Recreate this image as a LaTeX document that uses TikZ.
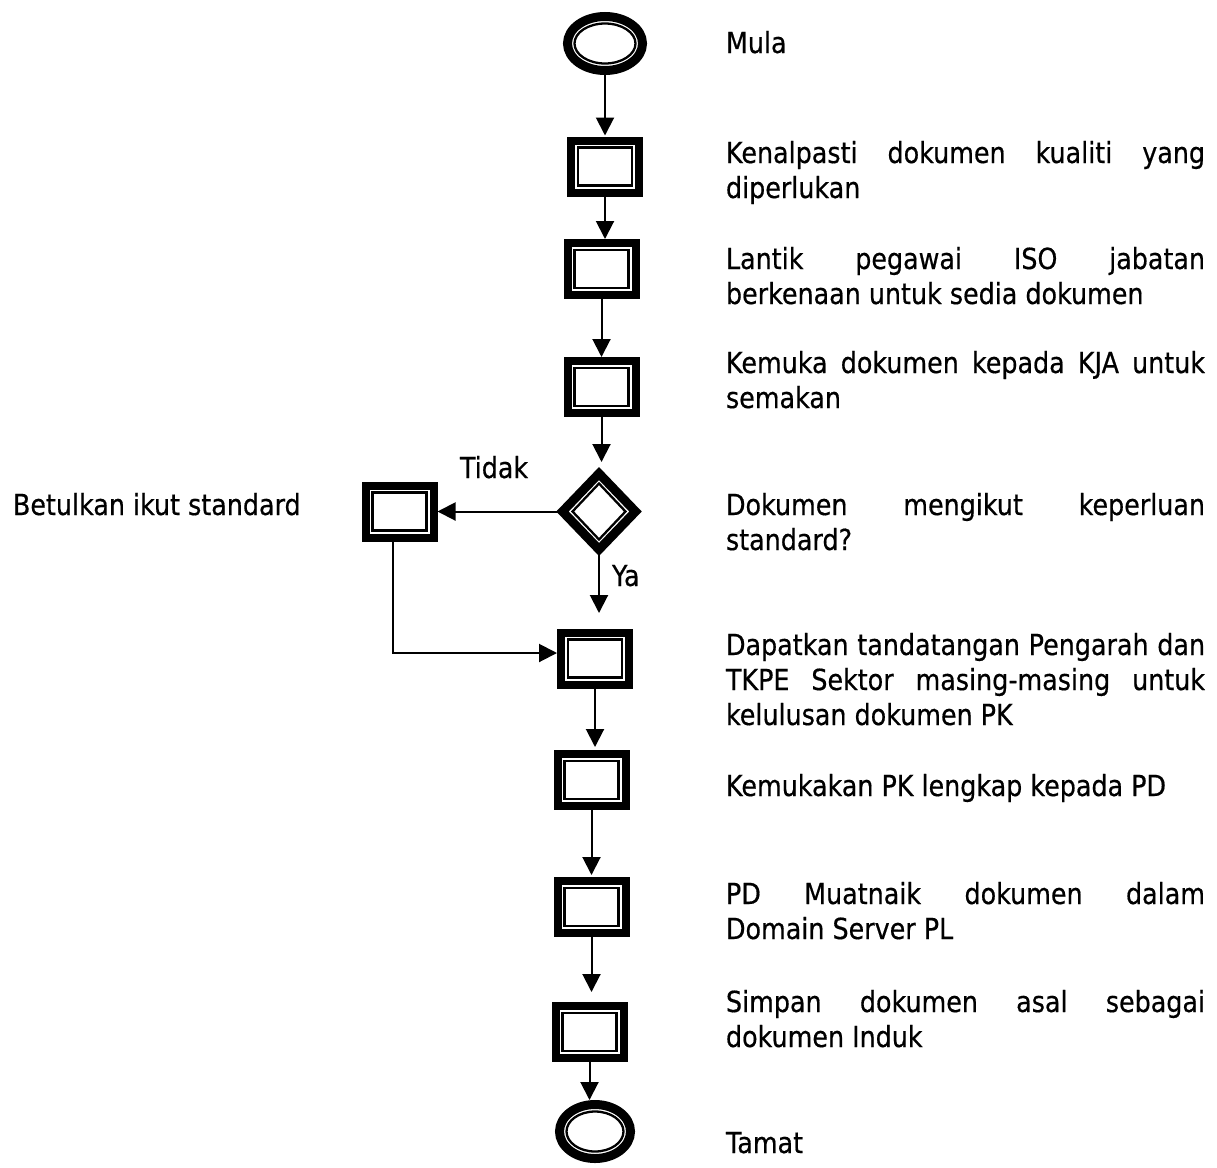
\documentclass[tikz,border=0pt]{standalone}
\usepackage{fontspec}
\setmainfont{DejaVu Sans}[FakeStretch=0.875,FakeBold=0.5]
\usetikzlibrary{arrows.meta,shapes.geometric}
\hyphenpenalty=10000
\exhyphenpenalty=10000
\begin{document}
\begin{tikzpicture}[x=1pt,y=-1pt,
  every node/.style={inner sep=0pt,outer sep=0pt},
  flow/.style={line width=2pt,-{Triangle[length=18pt,width=18pt]}},
  procbox/.style={draw,rectangle,line width=8pt,minimum width=68pt,minimum height=52pt,
    path picture={\draw[line width=2.3pt]
      ([shift={(7pt,7pt)}]path picture bounding box.south west) rectangle
      ([shift={(-7pt,-7pt)}]path picture bounding box.north east);}},
  termA/.style={draw,ellipse,line width=9pt,minimum width=75pt,minimum height=54pt,
    path picture={\draw[line width=2.3pt] (path picture bounding box.center)
      ellipse [x radius=30.5pt,y radius=20pt];}},
  termB/.style={draw,ellipse,line width=9pt,minimum width=71pt,minimum height=54pt,
    path picture={\draw[line width=2.3pt] (path picture bounding box.center)
      ellipse [x radius=28.5pt,y radius=20pt];}},
  decide/.style={draw,diamond,line width=9pt,minimum width=73pt,minimum height=76pt,
    path picture={\draw[line width=2.3pt]
      ([yshift=-10pt]path picture bounding box.north) --
      ([xshift=-10pt]path picture bounding box.east) --
      ([yshift=10pt]path picture bounding box.south) --
      ([xshift=10pt]path picture bounding box.west) -- cycle;}},
  desc/.style={anchor=north west,text width=479pt,align=justify,
    font=\fontsize{29pt}{35pt}\selectfont},
  lbl/.style={anchor=base west,font=\fontsize{29pt}{35pt}\selectfont},
]
\fill[white] (0,0) rectangle (1217,1167);
\useasboundingbox (0,0) rectangle (1217,1167);

% shapes
\node[termA] (s) at (605,43.5) {};
\node[procbox] (b1) at (605,166.5) {};
\node[procbox] (b2) at (601.5,269) {};
\node[procbox] (b3) at (601.5,387) {};
\node[decide] (d) at (599,511.5) {};
\node[procbox] (bet) at (399.5,511.5) {};
\node[procbox] (b4) at (595,658.5) {};
\node[procbox] (b5) at (591.5,780) {};
\node[procbox] (b6) at (591.5,907) {};
\node[procbox] (b7) at (589.5,1032) {};
\node[termB] (e) at (595,1131.5) {};

% connectors
\draw[flow,shorten >=5pt] (s.south) -- (s.south |- b1.north);
\draw[flow,shorten >=4pt] (b1.south) -- (b1.south |- b2.north);
\draw[flow,shorten >=4pt] (b2.south) -- (b2.south |- b3.north);
\draw[flow,shorten >=11.5pt] (b3.south) -- (b3.south |- d.north);
\draw[flow,shorten >=19.5pt] (d.south) -- (d.south |- b4.north);
\draw[flow,shorten >=4pt] (d.west) -- (d.west -| bet.east);
\draw[flow,shorten >=4pt] ([xshift=-6.5pt]bet.south) |- ([yshift=5.5pt]b4.west);
\draw[flow,shorten >=7pt] (b4.south) -- (b4.south |- b5.north);
\draw[flow,shorten >=6pt] (b5.south) -- (b5.south |- b6.north);
\draw[flow,shorten >=14pt] (b6.south) -- (b6.south |- b7.north);
\draw[flow,shorten >=4.5pt] (b7.south) -- (b7.south |- e.north);

% labels
\node[lbl] (tidak) at (460,478) {Tidak};
\node[lbl] (ya) at (612,586) {Ya};
\node[lbl] (betl) at (13,515) {Betulkan ikut standard};

% descriptions
\node[lbl] (t0) at (726,53) {Mula};
\node[desc] (t1) at (726,140) {\rule{0pt}{23pt}Kenalpasti dokumen kualiti yang\linebreak diperlukan};
\node[desc] (t2) at (726,246) {\rule{0pt}{23pt}Lantik pegawai ISO jabatan\linebreak berkenaan untuk sedia dokumen};
\node[desc] (t3) at (726,350) {\rule{0pt}{23pt}Kemuka dokumen kepada KJA untuk\linebreak semakan};
\node[desc] (t4) at (726,492) {\rule{0pt}{23pt}Dokumen mengikut keperluan\linebreak standard?};
\node[desc] (t5) at (726,632) {\rule{0pt}{23pt}Dapatkan tandatangan Pengarah dan\linebreak TKPE Sektor masing-masing untuk\linebreak kelulusan dokumen PK};
\node[lbl] (t6) at (726,796) {Kemukakan PK lengkap kepada PD};
\node[desc] (t7) at (726,881) {\rule{0pt}{23pt}PD Muatnaik dokumen dalam\linebreak Domain Server PL};
\node[desc] (t8) at (726,989) {\rule{0pt}{23pt}Simpan dokumen asal sebagai\linebreak dokumen Induk};
\node[lbl] (t9) at (726,1153) {Tamat};
\end{tikzpicture}
\end{document}
